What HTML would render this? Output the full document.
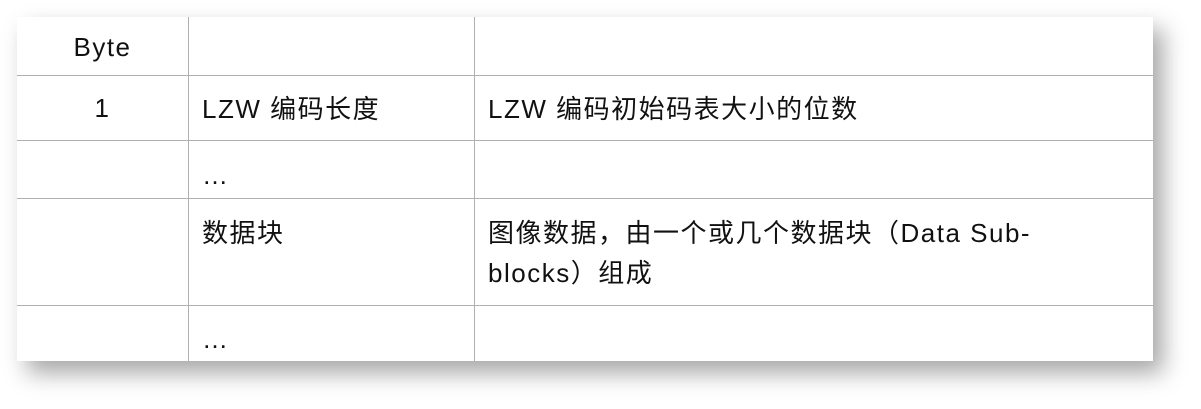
<!DOCTYPE html>
<html><head><meta charset="utf-8"><style>
body{margin:0;width:1201px;height:409px;background:#fff;position:relative;overflow:hidden;font-family:"Liberation Sans","Noto Sans CJK SC",sans-serif;color:#111;}
.t{position:absolute;left:17px;top:17px;width:1136px;height:344px;background:#fff;box-shadow:10px 12px 22px rgba(0,0,0,0.35);}
.v{position:absolute;top:0;bottom:0;width:1px;background:#b0b0b0;}
.h{position:absolute;left:0;right:0;height:1px;background:#b0b0b0;}
.x{position:absolute;font-size:26px;letter-spacing:1.5px;line-height:40px;white-space:nowrap;}
</style></head><body>
<div class="t">
<div class="v" style="left:171px"></div>
<div class="v" style="left:457px"></div>
<div class="h" style="top:58px"></div>
<div class="h" style="top:123px"></div>
<div class="h" style="top:181px"></div>
<div class="h" style="top:288px"></div>
<div class="x" style="left:0;width:171px;text-align:center;top:10px">Byte</div>
<div class="x" style="left:0;width:171px;text-align:center;top:71px">1</div>
<div class="x" style="left:185px;top:72px">LZW 编码长度</div>
<div class="x" style="left:471px;top:72px">LZW 编码初始码表大小的位数</div>
<div class="x" style="left:185px;top:138px">…</div>
<div class="x" style="left:185px;top:196px">数据块</div>
<div class="x" style="left:471px;top:196px">图像数据，由一个或几个数据块（Data Sub-</div>
<div class="x" style="left:471px;top:236px">blocks）组成</div>
<div class="x" style="left:185px;top:302px">…</div>
</div>
</body></html>
